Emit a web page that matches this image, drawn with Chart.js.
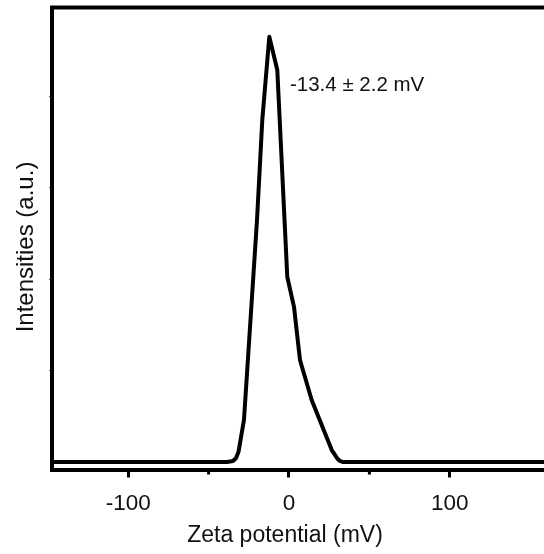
<!DOCTYPE html>
<html>
<head>
<meta charset="utf-8">
<script src="https://cdn.jsdelivr.net/npm/chart.js@4.4.1/dist/chart.umd.min.js"></script>
<style>
html, body { margin: 0; padding: 0; background: #fff; overflow: hidden; }
#wrap { width: 544px; height: 554px; }
</style>
</head>
<body>
<div id="wrap"><canvas id="zetaChart"></canvas></div>
<script>
// Zeta potential distribution
const zeta = [-147.4, -38.6, -34.8, -33.0, -31.4, -28.0, -19.9, -16.6, -12.25, -7.28, -1.06, 3.11, 6.84, 14.1, 26.6, 29.9, 31.7, 33.6, 158.6];
const intensity = [0, 0, 0.25, 0.9, 2.4, 9.9, 56.9, 80.5, 100, 92.2, 43.5, 36.5, 24.0, 14.6, 2.8, 0.9, 0.25, 0, 0];
const xTicks = [-100, 0, 100];
const xMinorTicks = [-50, 50];
const yTicks = [21.5, 43, 64.5, 86];
const peakLabel = '-13.4 \u00b1 2.2 mV';
const peakLabelAt = [0.6, 88.5];
const xTitle = 'Zeta potential (mV)';
const yTitle = 'Intensities (a.u.)';

const FONT = 'Liberation Sans, Arial, sans-serif';

// frame top line, minor x ticks, axis titles and the peak label
const extras = {
    id: 'extras',
    afterDraw(chart) {
        const { ctx, chartArea, scales } = chart;
        ctx.save();
        ctx.strokeStyle = '#000';
        ctx.lineWidth = 4;
        ctx.beginPath();
        ctx.moveTo(chartArea.left - 2, chartArea.top);
        ctx.lineTo(chartArea.right, chartArea.top);
        ctx.stroke();
        // close the bottom-left corner
        ctx.beginPath();
        ctx.moveTo(chartArea.left - 2, chartArea.bottom);
        ctx.lineTo(chartArea.left + 2, chartArea.bottom);
        ctx.stroke();

        ctx.lineWidth = 3;
        xMinorTicks.forEach(v => {
            const px = scales.x.getPixelForValue(v);
            ctx.beginPath();
            ctx.moveTo(px, chartArea.bottom);
            ctx.lineTo(px, chartArea.bottom + 5);
            ctx.stroke();
        });

        ctx.fillStyle = '#111';
        ctx.font = '20.5px ' + FONT;
        ctx.textAlign = 'left';
        ctx.textBaseline = 'middle';
        ctx.fillText(peakLabel, scales.x.getPixelForValue(peakLabelAt[0]), scales.y.getPixelForValue(peakLabelAt[1]));

        ctx.font = '23px ' + FONT;
        ctx.textAlign = 'center';
        ctx.fillText(xTitle, 285, 536);

        ctx.translate(26, 247);
        ctx.rotate(-Math.PI / 2);
        ctx.font = '24px ' + FONT;
        ctx.fillText(yTitle, 0, 0);
        ctx.restore();
    }
};

window.addEventListener('load', () => {
    new Chart(document.getElementById('zetaChart').getContext('2d'), {
        type: 'line',
        data: {
            datasets: [{
                data: zeta.map((x, i) => ({ x: x, y: intensity[i] })),
                borderColor: '#000',
                borderWidth: 4,
                borderJoinStyle: 'round',
                pointRadius: 0,
                tension: 0,
                fill: false
            }]
        },
        options: {
            responsive: true,
            maintainAspectRatio: false,
            animation: false,
            layout: { padding: { top: 7.5, right: 0, bottom: 0, left: 0 } },
            plugins: { legend: { display: false }, tooltip: { enabled: false } },
            scales: {
                x: {
                    type: 'linear',
                    position: 'bottom',
                    min: -147.4,
                    max: 158.6,
                    afterBuildTicks: s => { s.ticks = xTicks.map(v => ({ value: v })); },
                    afterFit: s => { s.height = 84.5; },
                    border: { display: true, width: 4, color: '#000' },
                    grid: { drawOnChartArea: false, drawTicks: true, tickLength: 8, lineWidth: 3, color: '#000' },
                    ticks: { color: '#111', font: { size: 22.5, family: FONT }, padding: 12.5, maxRotation: 0 }
                },
                y: {
                    type: 'linear',
                    position: 'left',
                    min: -1.76,
                    max: 106.9,
                    afterBuildTicks: s => { s.ticks = yTicks.map(v => ({ value: v })); },
                    afterFit: s => { s.width = 52; },
                    border: { display: true, width: 4, color: '#000' },
                    grid: { drawOnChartArea: false, drawTicks: true, tickLength: 3, lineWidth: 1, color: '#666' },
                    ticks: { display: false }
                }
            }
        },
        plugins: [extras]
    });
});
</script>
</body>
</html>
